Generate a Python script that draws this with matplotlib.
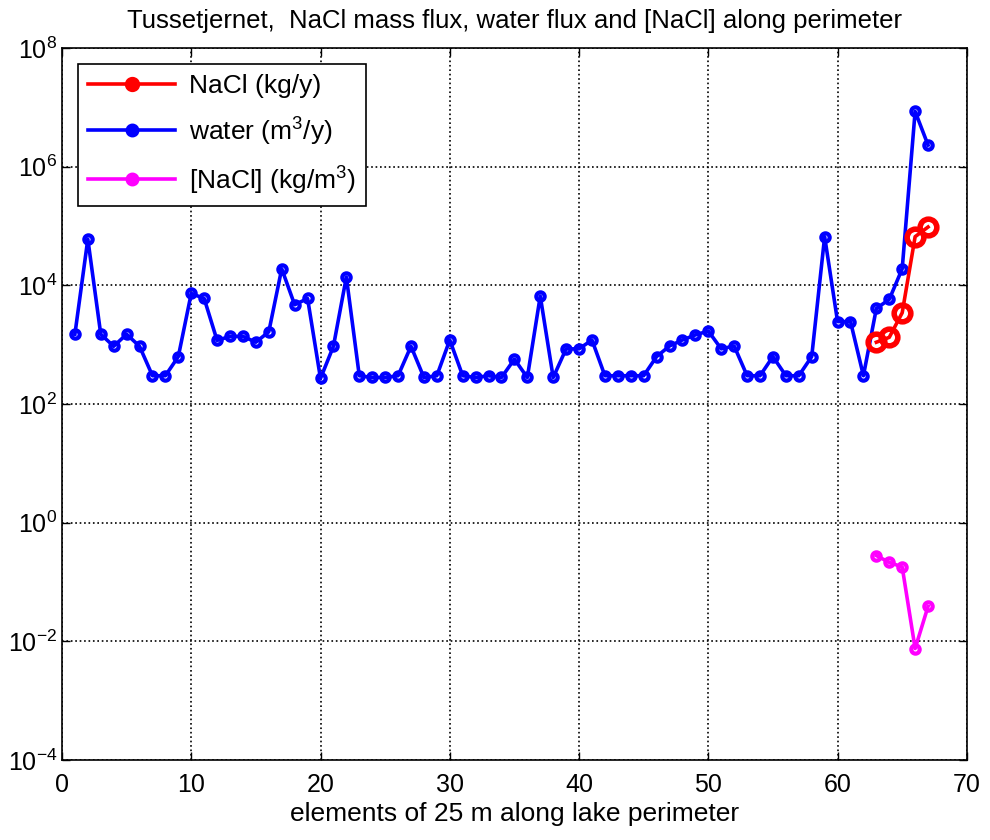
import matplotlib
matplotlib.use("Agg")
import matplotlib.pyplot as plt
from matplotlib.ticker import NullLocator, FixedLocator

plt.rcParams['font.family'] = ['Liberation Sans', 'DejaVu Sans']
plt.rcParams['mathtext.fontset'] = 'custom'
plt.rcParams['mathtext.rm'] = 'Liberation Sans'

# element numbers along the perimeter
elem_water = list(range(1, 68))
water = [1500, 60000, 1500, 940, 1500, 940, 300, 300, 630, 7300,
         6000, 1180, 1380, 1380, 1100, 1650, 19000, 4700, 6000, 270,
         940, 13800, 300, 280, 280, 300, 940, 280, 300, 1200,
         300, 280, 300, 280, 570, 280, 6600, 280, 850, 850,
         1200, 300, 300, 300, 300, 630, 950, 1200, 1460, 1700,
         850, 950, 300, 300, 630, 300, 300, 630, 66000, 2450,
         2450, 300, 4070, 5800, 19000, 8.5e6, 2.3e6]

elem_nacl = [63, 64, 65, 66, 67]
nacl = [1100, 1330, 3450, 66000, 96000]
conc = [0.28, 0.215, 0.18, 0.0076, 0.039]

fig = plt.figure(figsize=(9.9, 8.4), dpi=100)
ax = fig.add_axes([0.0626, 0.095, 0.914, 0.848])

ax.plot(elem_nacl, nacl, '-o', color='red', lw=2.6, ms=12, mfc='none', mew=4,
        label='NaCl (kg/y)', zorder=4)
ax.plot(elem_water, water, '-o', color='blue', lw=2.6, ms=6, mfc='none', mew=3,
        label='water (m$^\\mathregular{3}$/y)', zorder=3)
ax.plot(elem_nacl, conc, '-o', color='magenta', lw=2.6, ms=6, mfc='none', mew=3,
        label='[NaCl] (kg/m$^\\mathregular{3}$)', zorder=3)

ax.set_yscale('log')
ax.set_xlim(0, 70)
ax.set_ylim(1e-4, 1e8)
ax.set_xticks(range(0, 71, 10))
ax.yaxis.set_major_locator(FixedLocator([1e-4, 1e-2, 1e0, 1e2, 1e4, 1e6, 1e8]))
ax.yaxis.set_minor_locator(NullLocator())
ax.tick_params(direction='in', top=True, right=True, labelsize=18, length=6, width=1)
ax.tick_params(axis='x', pad=9)
ax.grid(True, color='black', linestyle=':', linewidth=1.2)
for s in ax.spines.values():
    s.set_linewidth(1.2)

ax.set_title('Tussetjernet,  NaCl mass flux, water flux and [NaCl] along perimeter',
             fontsize=18.5, pad=14)
ax.set_xlabel('elements of 25 m along lake perimeter', fontsize=19, labelpad=4)

leg = ax.legend(loc='upper left', fontsize=19, fancybox=False, edgecolor='black',
                framealpha=1, handlelength=3.3, handletextpad=0.5,
                labelspacing=0.6, borderaxespad=0.6, borderpad=0.4)
leg.get_frame().set_linewidth(1.2)
for h in leg.legend_handles:
    h.set_markersize(7)
    h.set_markerfacecolor(h.get_color())

fig.savefig('out.png', dpi=100)
